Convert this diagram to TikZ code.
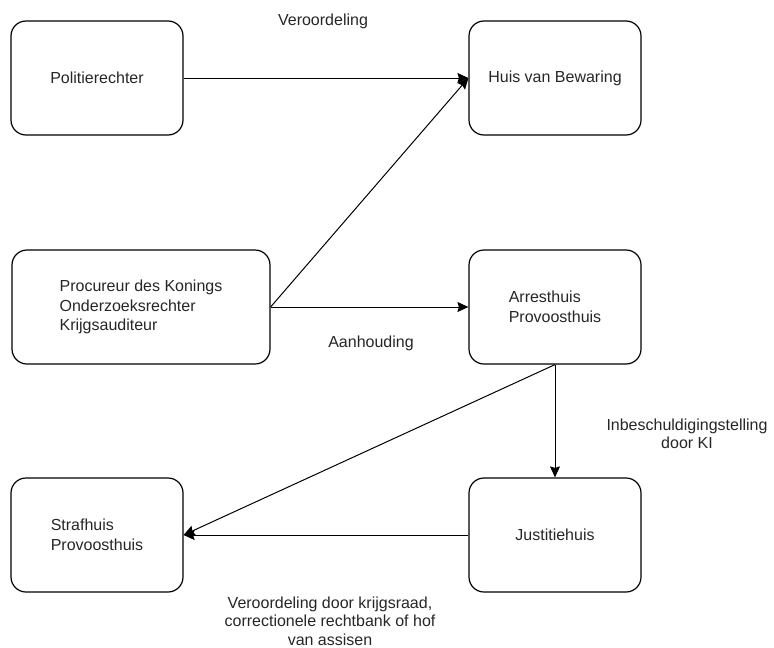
\documentclass[tikz,border=0pt]{standalone}
\usepackage{fontspec}
\setmainfont{Liberation Sans}
\usetikzlibrary{arrows.meta}
\tikzset{
  box/.style={draw,line width=1.2pt,rounded corners=15pt,minimum width=172pt,minimum height=114pt,inner sep=0pt,text=black!85,font=\fontsize{16}{19.5}\selectfont},
  lbl/.style={font=\fontsize{16}{18.5}\selectfont,align=center,text=black!85},
  conn/.style={draw,line width=1pt,-{Stealth[length=11pt,width=10pt,inset=1.5pt]}}
}
\begin{document}
\begin{tikzpicture}[x=1pt,y=-1pt,line join=round]
  \useasboundingbox (0,0) rectangle (774,648);
  % left column
  \node[box] (polr) at (97,78) {Politierechter};
  \node[box,minimum width=258pt,align=left] (pdk) at (141,307) {Procureur des Konings\\Onderzoeksrechter\\Krijgsauditeur};
  \node[box,align=left] (strh) at (97,535) {Strafhuis\\Provoosthuis};
  % right column
  \node[box] (hvb) at (555,78) {Huis van Bewaring};
  \node[box,align=left] (arrh) at (555,307) {Arresthuis\\Provoosthuis};
  \node[box] (jush) at (555,535) {Justitiehuis};
  % connectors
  \draw[conn] (polr.east) -- (hvb.west);
  \draw[conn] (pdk.east) -- (hvb.west);
  \draw[conn] (pdk.east) -- (arrh.west);
  \draw[conn] (arrh.south) -- (jush.north);
  \draw[conn] (arrh.south) -- (strh.east);
  \draw[conn] (jush.west) -- (strh.east);
  % labels
  \node[lbl] (tveo) at (323,21) {Veroordeling};
  \node[lbl] (taan) at (371,343) {Aanhouding};
  \node[lbl] (tinb) at (687,434) {Inbeschuldigingstelling\\door KI};
  \node[lbl] (tkrg) at (330,621) {Veroordeling door krijgsraad,\\correctionele rechtbank of hof\\van assisen};
\end{tikzpicture}
\end{document}
